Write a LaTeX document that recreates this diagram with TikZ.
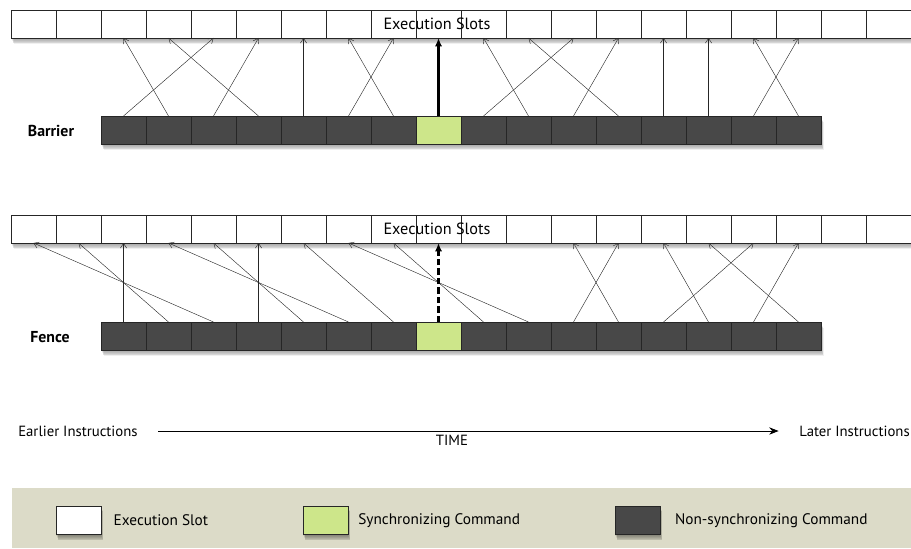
\documentclass[tikz,border=0pt]{standalone}
\usepackage{fontspec}
\setmainfont{PT Sans}
\usetikzlibrary{arrows.meta,positioning}

\definecolor{synccol}{RGB}{205,230,138}
\definecolor{cmdcol}{RGB}{72,72,72}
\definecolor{keycol}{RGB}{220,219,200}

\tikzset{
  cell/.style={draw=black!85, line width=0.6pt, minimum width=1.5cm, minimum height=0.933cm, inner sep=0pt, outer sep=0pt},
  slot/.style={cell, fill=white},
  cmd/.style={cell, fill=cmdcol},
  sync/.style={cell, fill=synccol},
  flow/.style={-{Straight Barb[length=4.5pt,width=6pt]}, line width=0.4pt, black!85},
  syncflow/.style={-{Latex[length=8pt,width=7pt]}, line width=2.6pt},
  rowname/.style={font=\bfseries\fontsize{15}{17}\selectfont},
  small/.style={font=\fontsize{14}{16}\selectfont},
  keytext/.style={font=\fontsize{14.5}{16}\selectfont},
}

% soft shadow under a row of cells
\newcommand{\rowshadow}[4]{%
  \foreach \k in {1,...,7}
    \fill[black, opacity=0.06] (#1+\k*0.4,#2+\k*0.9) rectangle (#3+\k*0.4,#4+\k*0.9);
}

\begin{document}
\begin{tikzpicture}[x=1cm/30, y=-1cm/30]
  \useasboundingbox (0,0) rectangle (911,548);

  % ---- barrier ----
  \rowshadow{11}{10}{911}{38}
  \rowshadow{101}{116}{821}{144}
  \foreach \j in {0,...,19}
    \node[slot] (bt\j) at ({33.5+45*\j},24) {};
  \foreach \i in {0,...,15}
    \node[cmd] (bc\i) at ({123.5+45*\i},130) {};
  \node[sync] (bc7) at (438.5,130) {};
  \node at (437,24) {\fontsize{15.4}{17}\selectfont Execution Slots};
  \node[rowname] (barrier) at (51,131) {Barrier};

  \foreach \i/\j in {0/4,1/2,2/5,3/3,4/6,5/8,6/7,8/12,9/10,10/13,11/11,12/14,13/15,14/17,15/16}
    \draw[flow] (bc\i.north) -- (bt\j.south);
  \draw[syncflow] (bc7.north) -- (bt9.south);

  % ---- fence ----
  \rowshadow{11}{215}{911}{243}
  \rowshadow{101}{322}{821}{350}
  \foreach \j in {0,...,19}
    \node[slot] (ft\j) at ({33.5+45*\j},229) {};
  \foreach \i in {0,...,15}
    \node[cmd] (fc\i) at ({123.5+45*\i},336) {};
  \node[sync] (fc7) at (438.5,336) {};
  \node at (437,229) {\fontsize{15.4}{17}\selectfont Execution Slots};
  \node[rowname] (fence) at (50,337) {Fence};

  \foreach \i/\j in {0/2,1/1,2/0,3/5,4/4,5/3,6/6,8/8,9/7,10/13,11/12,12/16,13/14,14/17,15/15}
    \draw[flow] (fc\i.north) -- (ft\j.south);
  \draw[syncflow, dash pattern=on 6pt off 3pt] (fc7.north) -- (ft9.south);

  % ---- time axis ----
  \node[small, anchor=west, inner sep=1pt] (early) at (17,431) {Earlier Instructions};
  \node[small, anchor=east, inner sep=1pt] (late) at (911,431) {Later Instructions};
  \draw[-{Stealth[length=9pt,width=7pt]}, line width=0.8pt] ([xshift=0.65cm]early.east) -- ([xshift=-0.65cm]late.west);
  \node[small] (time) at (452,440) {TIME};

  % ---- key ----
  \fill[keycol] (12,488) rectangle (911,548);
  \foreach \x in {78.5,325.5,637.5}
    \foreach \k in {1,...,6}
      \fill[black, opacity=0.07] ({\x-22.5+\k*0.4},{506+\k*0.9}) rectangle ({\x+22.5+\k*0.4},{535+\k*0.9});
  \node[slot] (keyslot) at (78.5,520.5) {};
  \node[sync] (keysync) at (325.5,520.5) {};
  \node[cmd] (keycmd) at (637.5,520.5) {};
  \node[keytext, right=0.3cm of keyslot] {Execution Slot};
  \node[keytext, right=0.22cm of keysync] {Synchronizing Command};
  \node[keytext, right=0.38cm of keycmd] {Non-synchronizing Command};
\end{tikzpicture}
\end{document}
